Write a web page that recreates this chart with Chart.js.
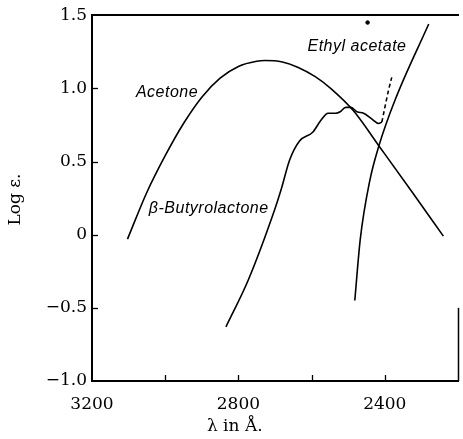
<!DOCTYPE html>
<html>
<head>
<meta charset="utf-8">
<script src="https://cdn.jsdelivr.net/npm/chart.js@4.4.1/dist/chart.umd.min.js"></script>
<style>
  body { margin: 0; background: #fff; }
  canvas { display: block; }
</style>
</head>
<body>
<canvas id="spectra" width="463" height="439"></canvas>
<script>
// wavelengths in Angstrom, values are log(epsilon)
const acetoneX = [3103, 3050, 3000, 2950, 2900, 2850, 2800, 2750, 2728, 2680, 2638, 2590, 2548, 2485, 2417, 2322, 2240];
const acetoneY = [-0.03, 0.29, 0.54, 0.76, 0.94, 1.07, 1.15, 1.185, 1.19, 1.18, 1.145, 1.08, 1.0, 0.845, 0.61, 0.28, -0.01];

const lactoneX = [2834, 2773, 2701, 2683, 2660, 2633, 2597, 2575, 2555, 2534, 2522, 2507, 2492, 2476, 2458, 2435, 2417, 2408];
const lactoneY = [-0.63, -0.31, 0.17, 0.31, 0.51, 0.64, 0.70, 0.78, 0.83, 0.83, 0.84, 0.87, 0.87, 0.84, 0.83, 0.79, 0.76, 0.77];

const lactoneDashX = [2408, 2390, 2381];
const lactoneDashY = [0.77, 0.985, 1.075];

const ethylX = [2482, 2467, 2441, 2417, 2372, 2280];
const ethylY = [-0.45, -0.03, 0.37, 0.60, 0.92, 1.44];

const dotX = [2447];
const dotY = [1.45];

const xTicks = [3200, 2800, 2400];
const yTickLabels = { '1.5': '1.5', '1': '1.0', '0.5': '0.5', '0': '0', '-0.5': '\u22120.5', '-1': '\u22121.0' };

const curveLabels = [
  { text: 'Acetone', x: 2995, y: 0.97 },
  { text: '\u03b2-Butyrolactone', x: 2881, y: 0.177 },
  { text: 'Ethyl acetate', x: 2476, y: 1.284 }
];

const pairs = (xs, ys) => xs.map((x, i) => ({ x: x, y: ys[i] }));

const serif = '"DejaVu Serif", serif';

// inward tick marks, curve names and axis titles
const decorations = {
  id: 'decorations',
  afterDraw(chart) {
    const ctx = chart.ctx;
    const xs = chart.scales.x, ys = chart.scales.y;
    const area = chart.chartArea;
    ctx.save();
    ctx.strokeStyle = '#000';
    ctx.lineWidth = 1.3;
    for (let v = 3000; v >= 2400; v -= 200) {
      const px = Math.round(xs.getPixelForValue(v)) + 0.5;
      ctx.beginPath();
      ctx.moveTo(px, area.bottom);
      ctx.lineTo(px, area.bottom - 6);
      ctx.stroke();
    }
    for (let v = 1.0; v >= -0.5; v -= 0.5) {
      const py = Math.round(ys.getPixelForValue(v)) + 0.5;
      ctx.beginPath();
      ctx.moveTo(area.left, py);
      ctx.lineTo(area.left + 6, py);
      ctx.stroke();
    }
    // short piece of the right frame that shows at the bottom
    ctx.lineWidth = 1.5;
    ctx.beginPath();
    ctx.moveTo(area.right + 0.5, ys.getPixelForValue(-0.5));
    ctx.lineTo(area.right + 0.5, area.bottom);
    ctx.stroke();

    ctx.fillStyle = '#000';
    ctx.font = 'italic 16px "Liberation Sans", Arial, sans-serif';
    ctx.letterSpacing = '0.5px';
    ctx.textAlign = 'center';
    ctx.textBaseline = 'middle';
    curveLabels.forEach(l => {
      ctx.fillText(l.text, xs.getPixelForValue(l.x), ys.getPixelForValue(l.y));
    });
    ctx.letterSpacing = '0px';

    ctx.font = '17px ' + serif;
    ctx.fillText('\u03bb in \u00c5.', xs.getPixelForValue(2810), 427);
    ctx.translate(16, ys.getPixelForValue(0.24));
    ctx.rotate(-Math.PI / 2);
    ctx.fillText('Log \u03b5.', 0, 0);
    ctx.restore();
  }
};

const lineStyle = {
  borderColor: '#000',
  borderWidth: 1.6,
  pointRadius: 0,
  fill: false,
  showLine: true,
  cubicInterpolationMode: 'monotone'
};

new Chart(document.getElementById('spectra'), {
  type: 'scatter',
  data: {
    datasets: [
      Object.assign({ label: 'Acetone', data: pairs(acetoneX, acetoneY) }, lineStyle),
      Object.assign({ label: 'beta-Butyrolactone', data: pairs(lactoneX, lactoneY) }, lineStyle),
      Object.assign({ label: 'dashed', data: pairs(lactoneDashX, lactoneDashY), borderDash: [4, 3] }, lineStyle),
      Object.assign({ label: 'Ethyl acetate', data: pairs(ethylX, ethylY) }, lineStyle),
      { label: 'dot', data: pairs(dotX, dotY), pointRadius: 1.8, backgroundColor: '#000', borderColor: '#000', showLine: false }
    ]
  },
  options: {
    responsive: false,
    devicePixelRatio: 1,
    animation: false,
    layout: { padding: { left: 0, right: 1, top: 0, bottom: 0 } },
    plugins: { legend: { display: false }, tooltip: { enabled: false } },
    scales: {
      x: {
        type: 'linear',
        reverse: true,
        min: 2200,
        max: 3200,
        afterBuildTicks: s => { s.ticks = xTicks.map(v => ({ value: v })); },
        afterFit: s => { s.height = 58; },
        grid: { display: false, drawTicks: false },
        border: { display: true, color: '#000', width: 2 },
        ticks: {
          color: '#000', padding: 13, maxRotation: 0,
          font: { family: serif, size: 17 },
          callback: v => String(v)
        }
      },
      x2: {
        type: 'linear',
        position: 'top',
        reverse: true,
        min: 2200,
        max: 3200,
        afterFit: s => { s.height = 13; },
        grid: { display: false, drawTicks: false },
        border: { display: true, color: '#000', width: 2 },
        ticks: { display: false }
      },
      y: {
        min: -1.0,
        max: 1.5,
        afterFit: s => { s.width = 92; },
        grid: { display: false, drawTicks: false },
        border: { display: true, color: '#000', width: 2 },
        ticks: {
          stepSize: 0.5,
          color: '#000',
          padding: 5,
          font: { family: serif, size: 17 },
          callback: v => yTickLabels[String(Math.round(v * 10) / 10)]
        }
      }
    }
  },
  plugins: [decorations]
});
</script>
</body>
</html>
